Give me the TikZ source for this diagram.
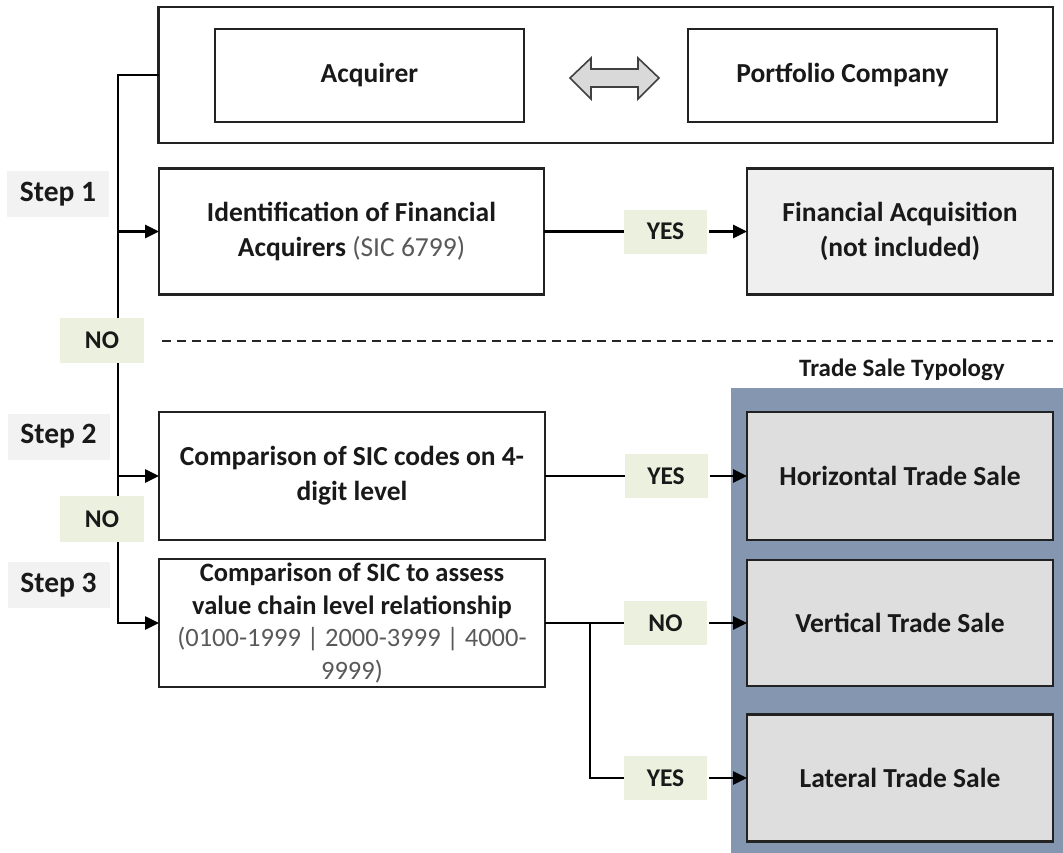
\documentclass[tikz,border=0pt]{standalone}
\usepackage{fontspec}
\setmainfont{Carlito}
\usetikzlibrary{arrows.meta}
\definecolor{lblgreen}{HTML}{EBF1DE}
\definecolor{stepgray}{HTML}{F2F2F2}
\definecolor{fingray}{HTML}{EFEFEF}
\definecolor{tradegray}{HTML}{DEDEDE}
\definecolor{panelblue}{HTML}{8496B0}
\definecolor{arrowgray}{HTML}{D9D9D9}
\definecolor{subgray}{HTML}{595959}
\definecolor{boxline}{HTML}{222222}
\tikzset{
  box/.style={draw=boxline, line width=2.6pt, inner sep=4pt, outer sep=0pt, align=center,
    font=\fontsize{27.5}{35}\selectfont\bfseries, text=black!90},
  tbox/.style={box, fill=tradegray, minimum width=306pt, minimum height=127pt},
  yn/.style={fill=lblgreen, minimum width=83pt, minimum height=44pt, inner sep=0pt, outer sep=0pt,
    font=\fontsize{25.5}{30}\selectfont\bfseries, text=black!90},
  steplbl/.style={fill=stepgray, minimum width=102pt, minimum height=46pt, inner sep=0pt,
    font=\fontsize{29.5}{34}\selectfont\bfseries, text=black!90},
  conn/.style={line width=2.6pt, black, line join=miter},
  arr/.style={conn, -{Triangle[length=14pt,width=13pt]}},
}
\begin{document}
\begin{tikzpicture}[x=1pt,y=-1pt]
\useasboundingbox (0,0) rectangle (1063,852);

% panel
\node[fill=panelblue, minimum width=332pt, minimum height=466pt, inner sep=0pt, outer sep=0pt] (panel) at (897,621) {};
\node[font=\fontsize{25}{30}\selectfont\bfseries, text=black!90] (typ) at (902,370) {Trade Sale Typology};

% top pair
\node[box, minimum width=894.5pt, minimum height=136pt] (pair) at (605.75,75) {};
\node[box, minimum width=309pt, minimum height=93pt] (acq) at (369.5,75.5) {Acquirer};
\node[box, minimum width=309pt, minimum height=93pt] (port) at (842.5,75.5) {Portfolio Company};
\draw[fill=arrowgray, draw=black!75, line width=1.6pt, line join=miter]
  (570,78) -- (591,58) -- (591,69) -- (638,69) -- (638,58) -- (659,78)
  -- (638,99) -- (638,87) -- (591,87) -- (591,99) -- cycle;

% step labels
\node[steplbl] (st1) at (58,194) {Step 1};
\node[steplbl] (st2) at (58.5,436.5) {Step 2};
\node[steplbl] (st3) at (58.5,585) {Step 3};

% step boxes
\node[box, minimum width=385pt, minimum height=126pt] (id) at (351.5,231.5)
  {Identification of Financial\\Acquirers {\mdseries\color{subgray}(SIC 6799)}};
\node[box, fill=fingray, minimum width=306pt, minimum height=126pt] (fin) at (900,231.5)
  {Financial Acquisition\\(not included)};
\node[box, minimum width=386pt, minimum height=128pt] (s2) at (352,476)
  {Comparison of SIC codes on 4-\\digit level};
\node[box, minimum width=386pt, minimum height=126pt, font=\fontsize{26.5}{32.5}\selectfont\bfseries] (s3) at (352,623)
  {Comparison of SIC to assess\\value chain level relationship\\{\mdseries\color{subgray}(0100-1999 | 2000-3999 | 4000-}\\{\mdseries\color{subgray}9999)}};

% trade boxes
\node[tbox, minimum height=128pt] (hor) at (900,476) {Horizontal Trade Sale};
\node[tbox, minimum height=126pt] (ver) at (900,623) {Vertical Trade Sale};
\node[tbox] (lat) at (900,778) {Lateral Trade Sale};

% yes/no labels
\node[yn] (yes1) at (665.5,231.5) {YES};
\node[yn, minimum width=84pt, minimum height=45pt] (no1) at (102,340.5) {NO};
\node[yn] (yes2) at (666,476) {YES};
\node[yn, minimum width=84pt, minimum height=46pt] (no2) at (102,519) {NO};
\node[yn] (no3) at (665.5,623) {NO};
\node[yn] (yes3) at (665.5,778) {YES};

% dashed separator
\coordinate (dl) at (162,341);
\coordinate (dr) at (1053,341);
\draw[line width=2pt, dash pattern=on 9pt off 6pt, black!85] (dl) -- (dr);

% main spine
\coordinate (top) at (118,75);
\coordinate (bot) at (118,623);
\draw[conn] (pair.west) -- (top) -- (top |- no1.north);
\draw[conn] (top |- no1.south) -- (top |- no2.north);
\draw[arr] (top |- no2.south) -- (bot) -- (s3.west);
\draw[arr] (top |- id.west) -- (id.west);
\draw[arr] (top |- s2.west) -- (s2.west);

% step 1 outcome
\draw[conn] (id.east) -- (yes1.west);
\draw[arr] ([xshift=2pt]yes1.east) -- (fin.west);

% step 2 outcome
\draw[conn] (s2.east) -- (yes2.west);
\draw[arr] ([xshift=2pt]yes2.east) -- (hor.west);

% step 3 outcome
\coordinate (br) at (590,623);
\draw[conn] (s3.east) -- (no3.west);
\draw[conn] (br) -- (br |- yes3.west) -- (yes3.west);
\draw[arr] ([xshift=2pt]no3.east) -- (ver.west);
\draw[arr] ([xshift=2pt]yes3.east) -- (lat.west);
\end{tikzpicture}
\end{document}
